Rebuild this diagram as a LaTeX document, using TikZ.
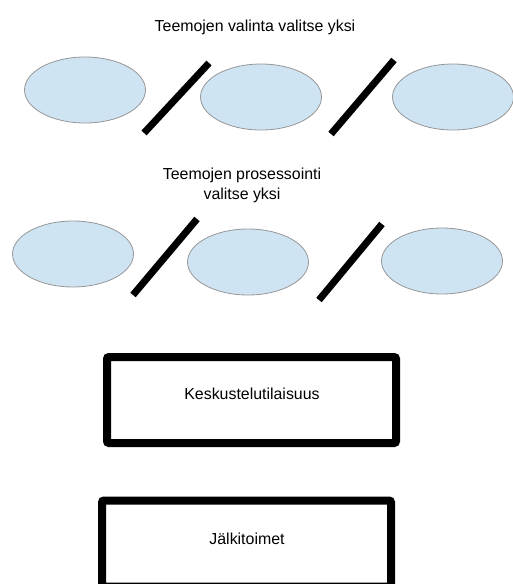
\documentclass[tikz,border=0pt]{standalone}
\usepackage{fontspec}
\setmainfont{Liberation Sans}
\usepackage{tikz}
\usetikzlibrary{shapes.geometric,positioning}
\usepackage{xcolor}
\definecolor{themeblue}{RGB}{207,228,243}
\definecolor{themeedge}{RGB}{150,150,150}

\tikzset{
    theme/.style={ellipse, draw=themeedge, line width=0.8pt, fill=themeblue,
        minimum width=121pt, minimum height=66pt, inner sep=0pt},
    divider/.style={line width=7pt},
    stagebox/.style={draw, line width=8pt, rounded corners=2pt,
        minimum width=289pt, minimum height=86pt, inner sep=0pt},
    caption/.style={font=\fontsize{15.9}{20}\selectfont, align=center}
}

\begin{document}
\begin{tikzpicture}[x=1pt, y=-1pt]
    \useasboundingbox (0,0) rectangle (512,584);

    % Choosing the themes
    \node[caption] (choosetitle) at (255,27) {Teemojen valinta valitse yksi};
    \node[theme] (choiceA) at (85,90) {};
    \node[theme] (choiceB) at (261,97) {};
    \node[theme] (choiceC) at (453,97) {};
    \draw[divider] (144,133) -- (209,63);
    \draw[divider] (331,134) -- (394,60);

    % Processing the themes
    \node[caption] (proctitle) at (242,185) {Teemojen prosessointi\\valitse yksi};
    \node[theme] (procA) at (73,254) {};
    \node[theme] (procB) at (248,262) {};
    \node[theme] (procC) at (442,261) {};
    \draw[divider] (133,295) -- (197,219);
    \draw[divider] (319,300) -- (382,224);

    % Discussion event
    \node[stagebox] (talk) at (251.5,400) {};
    \node[caption] (talklabel) at (252,394) {Keskustelutilaisuus};

    % Follow-up
    \node[stagebox] (followup) at (246.5,543.5) {};
    \node[caption] (followlabel) at (247,539) {Jälkitoimet};
\end{tikzpicture}
\end{document}
